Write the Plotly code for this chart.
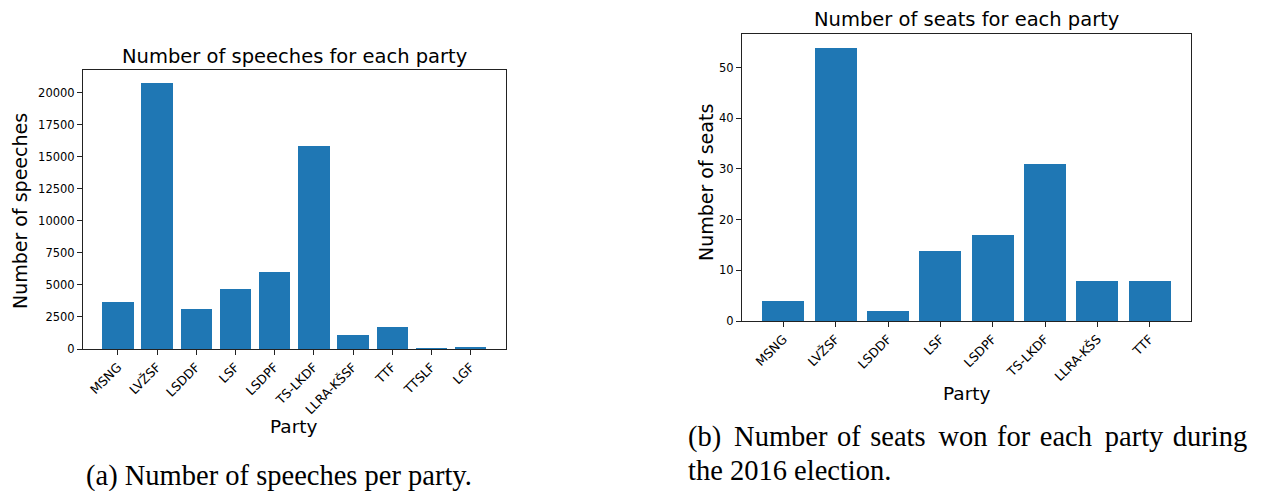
import plotly.graph_objects as go

W, H = 1264, 491

speech_parties = ["MSNG", "LVŽSF", "LSDDF", "LSF", "LSDPF", "TS-LKDF", "LLRA-KŠSF", "TTF", "TTSLF", "LGF"]
speech_counts = [3700, 20750, 3120, 4690, 6040, 15830, 1090, 1720, 10, 130]
speech_ticks = [0, 2500, 5000, 7500, 10000, 12500, 15000, 17500, 20000]

seat_parties = ["MSNG", "LVŽSF", "LSDDF", "LSF", "LSDPF", "TS-LKDF", "LLRA-KŠS", "TTF"]
seat_counts = [4, 54, 2, 14, 17, 31, 8, 8]
seat_ticks = [0, 10, 20, 30, 40, 50]

caption_b_words = ["(b)", "Number", "of", "seats", "won", "for", "each", "party", "during"]

BLUE = "#1f77b4"
AX = "#222222"
FONT = "DejaVu Sans"


def px(x):
    return x / W


def py(y):
    return 1 - y / H


fig = go.Figure()
fig.add_trace(go.Bar(x=list(range(len(speech_parties))), y=speech_counts, width=0.8,
                     marker=dict(color=BLUE, line=dict(width=0)), xaxis="x", yaxis="y"))
fig.add_trace(go.Bar(x=list(range(len(seat_parties))), y=seat_counts, width=0.8,
                     marker=dict(color=BLUE, line=dict(width=0)), xaxis="x2", yaxis="y2"))

common = dict(showline=True, linecolor=AX, linewidth=1, mirror=True, ticks="outside",
              ticklen=5, tickcolor=AX, tickwidth=1, showgrid=False, zeroline=False,
              fixedrange=True, automargin=False)

n1 = len(speech_parties)
n2 = len(seat_parties)
m1 = 0.05 * (n1 - 1 + 0.8)
m2 = 0.05 * (n2 - 1 + 0.8)

XT = 12.5
YT = 11.5

fig.update_layout(
    width=W, height=H, margin=dict(l=0, r=0, t=0, b=0),
    paper_bgcolor="white", plot_bgcolor="white", showlegend=False, bargap=0,
    font=dict(family=FONT, color="black"),
    xaxis=dict(domain=[px(83), px(505.5)], anchor="y",
               range=[-0.4 - m1, n1 - 1 + 0.4 + m1],
               tickmode="array", tickvals=list(range(n1)), ticktext=speech_parties,
               tickangle=-45, tickfont=dict(size=XT, family=FONT, color="black"), **common),
    yaxis=dict(domain=[py(349), py(70)], anchor="x",
               range=[0, max(speech_counts) * 1.05],
               tickmode="array", tickvals=speech_ticks, ticktext=[str(t) for t in speech_ticks],
               tickfont=dict(size=YT, family=FONT, color="black"), **common),
    xaxis2=dict(domain=[px(742), px(1191)], anchor="y2",
                range=[-0.4 - m2, n2 - 1 + 0.4 + m2],
                tickmode="array", tickvals=list(range(n2)), ticktext=seat_parties,
                tickangle=-45, tickfont=dict(size=XT, family=FONT, color="black"), **common),
    yaxis2=dict(domain=[py(321), py(33.5)], anchor="x2",
                range=[0, max(seat_counts) * 1.05],
                tickmode="array", tickvals=seat_ticks, ticktext=[str(t) for t in seat_ticks],
                tickfont=dict(size=YT, family=FONT, color="black"), **common),
)

ann = []


def text(x, y, s, size, family=FONT, angle=0, xanchor="center"):
    ann.append(dict(x=px(x), y=py(y), xref="paper", yref="paper", text=s, showarrow=False,
                    font=dict(size=size, family=family, color="black"), textangle=angle,
                    xanchor=xanchor, yanchor="middle"))


text(294.5, 57, "Number of speeches for each party", 19.5)
text(294, 426, "Party", 18.5)
text(20, 211, "Number of speeches", 19, angle=-90)

text(966.5, 20, "Number of seats for each party", 19.5)
text(966.5, 393, "Party", 18.5)
text(706, 183, "Number of seats", 19, angle=-90)

SERIF = "Liberation Serif"
CAP = 28.5
# justified first line: widen inter-word gaps slightly (mix of thin and hair spaces)
gaps = [" \u2009", " \u200a", " \u200a", " \u2009", " \u200a", " \u200a", " \u2009", " \u200a"]
line_b = caption_b_words[0]
for g, w in zip(gaps, caption_b_words[1:]):
    line_b += g + w

text(278.5, 476, "(a) Number of speeches per party.", CAP, family=SERIF)
text(686, 437, line_b, CAP, family=SERIF, xanchor="left")
text(686, 470, "the 2016 election.", CAP, family=SERIF, xanchor="left")

fig.update_layout(annotations=ann)
fig.write_html("out.html")
